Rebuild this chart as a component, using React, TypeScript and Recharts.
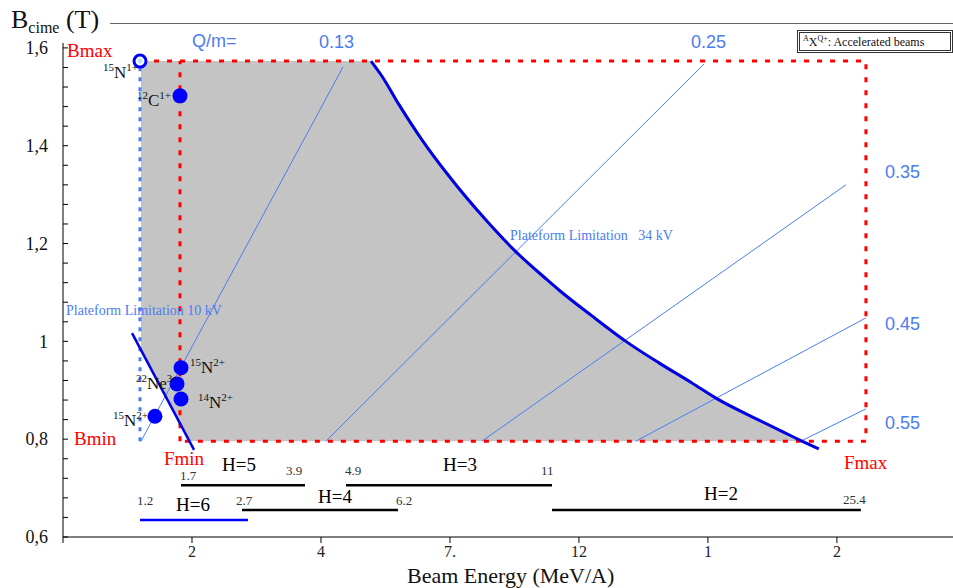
import React from 'react';
import { ComposedChart, Line, Area, Scatter, XAxis, YAxis } from 'recharts';

const W = 953;
const H = 588;

const SERIF = '"Liberation Serif", "Times New Roman", serif';
const SANS = '"Liberation Sans", Arial, sans-serif';
const THIN = '#4b7cf2';
const THICK = '#0000e6';
const MARK = '#0000ff';
const RED = '#ff0000';
const GRAY = '#c4c4c4';

// x axis: tick index (labels as printed on the original)
const X_TICKS = [0, 1, 2, 3, 4, 5, 6];
const X_LABELS = ['', '2', '4', '7.', '12', '1', '2'];

const Y_TICKS = [
  0.6, 0.64, 0.68, 0.72, 0.76, 0.8, 0.84, 0.88, 0.92, 0.96, 1, 1.04, 1.08,
  1.12, 1.16, 1.2, 1.24, 1.28, 1.32, 1.36, 1.4, 1.44, 1.48, 1.52, 1.56, 1.6,
];
const Y_MAJOR: Record<string, string> = {
  '0.6': '0,6', '0.8': '0,8', '1': '1', '1.2': '1,2', '1.4': '1,4', '1.6': '1,6',
};

// acceptance limits
const B_MAX = 1.573;
const B_MIN = 0.796;
const E_10KV = 0.597;
const F_MIN = 0.907;
const F_MAX = 6.225;

const LIMIT_34KV = [
  { x: 2.388, y: 1.573 }, { x: 2.473, y: 1.542 }, { x: 2.605, y: 1.484 },
  { x: 2.783, y: 1.412 }, { x: 2.992, y: 1.338 }, { x: 3.279, y: 1.248 },
  { x: 3.512, y: 1.183 }, { x: 3.744, y: 1.128 }, { x: 3.845, y: 1.105 },
  { x: 4.101, y: 1.052 }, { x: 4.364, y: 1.0 }, { x: 4.62, y: 0.956 },
  { x: 4.876, y: 0.915 }, { x: 5.062, y: 0.884 }, { x: 5.395, y: 0.839 },
  { x: 5.651, y: 0.806 }, { x: 5.729, y: 0.796 }, { x: 5.86, y: 0.78 },
];
const LIMIT_10KV = [{ x: 0.535, y: 1.017 }, { x: 1.016, y: 0.778 }];

const QM_013 = [{ x: 0.605, y: 0.796 }, { x: 2.171, y: 1.561 }];
const QM_025 = [{ x: 2.039, y: 0.796 }, { x: 4.969, y: 1.567 }];
const QM_035 = [{ x: 3.248, y: 0.796 }, { x: 6.07, y: 1.32 }];
const QM_045 = [{ x: 4.442, y: 0.796 }, { x: 6.225, y: 1.048 }];
const QM_055 = [{ x: 5.721, y: 0.796 }, { x: 6.225, y: 0.862 }];

const BEAMS = [
  { x: 0.597, y: 1.573, open: true },
  { x: 0.907, y: 1.502 },
  { x: 0.915, y: 0.946 },
  { x: 0.884, y: 0.913 },
  { x: 0.915, y: 0.882 },
  { x: 0.713, y: 0.847 },
];

const H_RANGES = [
  { h: 'H=6', y: 0.635, x0: 0.597, x1: 1.434, color: MARK },
  { h: 'H=5', y: 0.706, x0: 0.915, x1: 1.876, color: '#000' },
  { h: 'H=4', y: 0.655, x0: 1.388, x1: 2.597, color: '#000' },
  { h: 'H=3', y: 0.706, x0: 2.194, x1: 3.791, color: '#000' },
  { h: 'H=2', y: 0.655, x0: 3.791, x1: 6.186, color: '#000' },
];

// shaded acceptance: straight-edged left part + curved part under the 34 kV limit
const acceptanceLeft = [
  { x: 0.605, range: [0.982, B_MAX] },
  { x: 0.978, range: [B_MIN, B_MAX] },
  { x: LIMIT_34KV[0].x, range: [B_MIN, B_MAX] },
];
const acceptanceCurve = LIMIT_34KV.map((p) => ({ x: p.x, range: [B_MIN, Math.max(p.y, B_MIN)] }));

const redFrame = [
  { x: 0.605, y: B_MAX }, { x: F_MAX, y: B_MAX }, { x: F_MAX, y: B_MIN }, { x: F_MIN, y: B_MIN },
];
const fminLine = [{ x: F_MIN, y: B_MIN }, { x: F_MIN, y: B_MAX }];
const line10kV = [{ x: E_10KV, y: B_MIN }, { x: E_10KV, y: B_MAX }];

function YTick(props: any) {
  const { x, y, payload } = props;
  const label = Y_MAJOR[String(payload.value)];
  return (
    <g>
      <line x1={x} x2={x + 5} y1={y} y2={y} stroke="#000" />
      {label && (
        <text x={x - 15} y={y} dy="0.35em" textAnchor="end" fontSize={18} fontFamily={SERIF} fill="#111">
          {label}
        </text>
      )}
    </g>
  );
}

function BeamDot(props: any) {
  const { cx, cy, payload } = props;
  if (payload.open) {
    return (
      <g>
        <circle cx={cx} cy={cy} r={6} fill="#fff" stroke={MARK} strokeWidth={3} />
        <polygon points={`${cx},${cy - 3} ${cx + 3},${cy} ${cx},${cy + 3} ${cx - 3},${cy}`} fill="#aee8f8" />
      </g>
    );
  }
  return <circle cx={cx} cy={cy} r={7.5} fill={MARK} />;
}

function T({ x, y, size = 17, color = '#000', font = SERIF, children }: any) {
  return (
    <div style={{ position: 'absolute', left: x, top: y, fontSize: size, color, fontFamily: font, lineHeight: 1, whiteSpace: 'nowrap' }}>
      {children}
    </div>
  );
}

function Ion({ x, y, mass, el, charge }: any) {
  const sup = { fontSize: 11, position: 'relative' as const, top: -7 };
  return (
    <T x={x} y={y} size={17} color="#111">
      <span style={sup}>{mass}</span>
      {el}
      <span style={sup}>{charge}</span>
    </T>
  );
}

export default function App() {
  return (
    <div style={{ position: 'relative', width: W, height: H, background: '#fff', fontFamily: SERIF }}>
      <style>{'body{margin:0}'}</style>
      <ComposedChart width={W} height={H} margin={{ top: 43, right: 0, bottom: 21, left: 3 }}>
        <XAxis
          type="number"
          dataKey="x"
          domain={[0, 6.9]}
          ticks={X_TICKS}
          interval={0}
          allowDataOverflow
          height={30}
          stroke="#000"
          tickMargin={3}
          tickFormatter={(v: number) => X_LABELS[v] ?? ''}
          tick={{ fill: '#222', fontSize: 16, fontFamily: SERIF }}
        />
        <YAxis
          type="number"
          dataKey="y"
          domain={[0.6, 1.61]}
          ticks={Y_TICKS}
          interval={0}
          allowDataOverflow
          width={60}
          stroke="#000"
          tickLine={false}
          tickSize={0}
          tickMargin={0}
          tick={<YTick />}
        />
        <Area data={acceptanceLeft} dataKey="range" type="linear" fill={GRAY} fillOpacity={1} stroke="none" isAnimationActive={false} />
        <Area data={acceptanceCurve} dataKey="range" type="monotone" fill={GRAY} fillOpacity={1} stroke="none" isAnimationActive={false} />
        {[QM_013, QM_025, QM_035, QM_045, QM_055].map((d, i) => (
          <Line key={`qm${i}`} data={d} dataKey="y" type="linear" stroke={THIN} strokeWidth={1} dot={false} activeDot={false} isAnimationActive={false} />
        ))}
        <Line data={redFrame} dataKey="y" type="linear" stroke={RED} strokeWidth={3} strokeDasharray="5 8" dot={false} activeDot={false} isAnimationActive={false} />
        <Line data={fminLine} dataKey="y" type="linear" stroke={RED} strokeWidth={3} strokeDasharray="5 8" dot={false} activeDot={false} isAnimationActive={false} />
        <Line data={line10kV} dataKey="y" type="linear" stroke={THIN} strokeWidth={3} strokeDasharray="4 6" dot={false} activeDot={false} isAnimationActive={false} />
        <Line data={LIMIT_34KV} dataKey="y" type="monotone" stroke={THICK} strokeWidth={3} dot={false} activeDot={false} isAnimationActive={false} />
        <Line data={LIMIT_10KV} dataKey="y" type="linear" stroke={THICK} strokeWidth={2.5} dot={false} activeDot={false} isAnimationActive={false} />
        {H_RANGES.map((r) => (
          <Line
            key={r.h}
            data={[{ x: r.x0, y: r.y }, { x: r.x1, y: r.y }]}
            dataKey="y"
            type="linear"
            stroke={r.color}
            strokeWidth={2.5}
            dot={false}
            activeDot={false}
            isAnimationActive={false}
          />
        ))}
        <Scatter data={BEAMS} dataKey="y" shape={<BeamDot />} isAnimationActive={false} />
      </ComposedChart>

      {/* title + frame line */}
      <div style={{ position: 'absolute', left: 110, top: 23, width: W - 110, height: 1, background: '#666' }} />
      <T x={11} y={7} size={26} color="#111">
        B<span style={{ fontSize: 16, position: 'relative', top: 5 }}>cime</span> (T)
      </T>
      <T x={407} y={565} size={22} color="#111">Beam Energy (MeV/A)</T>

      {/* legend */}
      <div style={{ position: 'absolute', left: 797, top: 30, width: 150, height: 17, border: '3px double #333', background: '#fff' }}>
        <T x={3} y={3} size={12} color="#111">
          <span style={{ fontSize: 8, position: 'relative', top: -5 }}>A</span>X
          <span style={{ fontSize: 8, position: 'relative', top: -5 }}>Q+</span>: Accelerated beams
        </T>
      </div>

      {/* limit names */}
      <T x={67} y={41} size={19} color={RED}>Bmax</T>
      <T x={74} y={429} size={19} color={RED}>Bmin</T>
      <T x={164} y={449} size={19} color={RED}>Fmin</T>
      <T x={844} y={453} size={19} color={RED}>Fmax</T>

      {/* q/m labels */}
      <T x={192} y={32} size={18} color={THIN} font={SANS}>Q/m=</T>
      <T x={319} y={33} size={18} color={THIN} font={SANS}>0.13</T>
      <T x={691} y={33} size={18} color={THIN} font={SANS}>0.25</T>
      <T x={885} y={163} size={18} color={THIN} font={SANS}>0.35</T>
      <T x={885} y={315} size={18} color={THIN} font={SANS}>0.45</T>
      <T x={885} y={414} size={18} color={THIN} font={SANS}>0.55</T>

      <T x={66} y={304} size={14} color={THIN}>Plateform Limitation 10 kV</T>
      <T x={510} y={229} size={14} color={THIN}>Plateform Limitation&nbsp;&nbsp; 34 kV</T>

      {/* beams */}
      <Ion x={103} y={64} mass="15" el="N" charge="1+" />
      <Ion x={137} y={92} mass="12" el="C" charge="1+" />
      <Ion x={190} y={359} mass="15" el="N" charge="2+" />
      <Ion x={136} y={375} mass="22" el="Ne" charge="3+" />
      <Ion x={198} y={394} mass="14" el="N" charge="2+" />
      <Ion x={113} y={412} mass="15" el="N" charge="2+" />

      {/* harmonic ranges */}
      <T x={222} y={455} size={19}>H=5</T>
      <T x={443} y={455} size={19}>H=3</T>
      <T x={176} y={495} size={19}>H=6</T>
      <T x={318} y={487} size={19}>H=4</T>
      <T x={704} y={484} size={19}>H=2</T>
      <T x={180} y={469} size={13} color="#333">1.7</T>
      <T x={286} y={464} size={13} color="#333">3.9</T>
      <T x={345} y={464} size={13} color="#333">4.9</T>
      <T x={541} y={464} size={13} color="#333">11</T>
      <T x={137} y={494} size={13} color="#333">1.2</T>
      <T x={236} y={494} size={13} color="#333">2.7</T>
      <T x={396} y={494} size={13} color="#333">6.2</T>
      <T x={843} y={493} size={13} color="#333">25.4</T>
    </div>
  );
}
